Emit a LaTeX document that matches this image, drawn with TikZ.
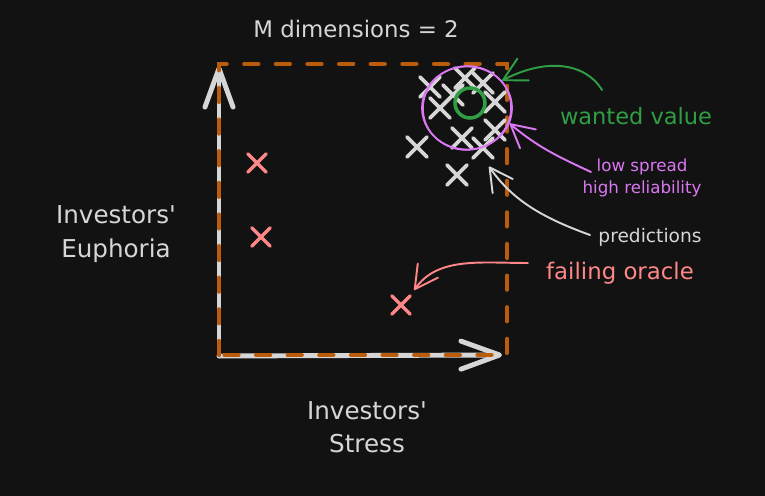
\documentclass[tikz,border=0pt]{standalone}
\usepackage{fontspec}
\setmainfont{DejaVu Sans}
\usetikzlibrary{positioning,arrows.meta,shapes.misc,shapes.geometric}
\pgfdeclarelayer{background layer}
\pgfsetlayers{background layer,main}
\definecolor{bgdark}{HTML}{121212}
\definecolor{chalk}{HTML}{D6D6D6}
\definecolor{dimorange}{HTML}{BA5C0C}
\definecolor{oraclered}{HTML}{FF8787}
\definecolor{wantgreen}{HTML}{2F9E44}
\definecolor{spreadpurple}{HTML}{DA77F2}
\tikzset{
	axis/.style={draw=chalk,line width=2.8pt,line cap=round,-{Straight Barb[length=22pt,width=16pt,round]}},
	dimbox/.style={draw=dimorange,line width=2.4pt,line cap=round,dash pattern=on 8pt off 10pt},
	predmark/.style={cross out,draw=chalk,line width=2.2pt,line cap=round,minimum size=0.32cm,inner sep=0pt},
	oraclemark/.style={predmark,draw=oraclered,line width=1.9pt,minimum size=0.3cm},
	handarrow/.style={line width=1.1pt,line cap=round,-{Straight Barb[length=13pt,width=14pt,round]}},
	chalktext/.style={text=chalk,font=\fontsize{13pt}{19pt}\selectfont,align=center,inner sep=0pt}
}
\newcommand{\prediction}[2]{
	\node [predmark] (#1) at (#2) {}
}
\newcommand{\oracle}[2]{
	\node [oraclemark] (#1) at (#2) {}
}

\begin{document}
\begin{tikzpicture}[x=0.02cm,y=-0.02cm]
	% On main layer
	\coordinate (origin) at (219,356);
	\coordinate (ytip) at (219,66);
	\coordinate (xtip) at (502,355);
	\draw [axis] (origin) -- (ytip);
	\draw [axis] (origin) -- (xtip);
	\draw [dimbox] (219,355) -- (219,64) -- (507,64) -- (507,355) -- cycle;

	\node [chalktext] (dims) at (356,29) {M dimensions = 2};
	\node [chalktext,font=\fontsize{14pt}{19pt}\selectfont] (euphoria) at (116,234) {Investors\textquotesingle\\Euphoria};
	\node [chalktext,font=\fontsize{14pt}{19pt}\selectfont] (stress) at (367,427) {Investors\textquotesingle\\Stress};

	\prediction {p1}{430,87};
	\prediction {p2}{465,78};
	\prediction {p3}{483,83};
	\prediction {p4}{453,95};
	\prediction {p5}{440,108};
	\prediction {p6}{495,102};
	\prediction {p7}{462,138};
	\prediction {p8}{495,130};
	\prediction {p9}{483,148};
	\prediction {p10}{417,147};
	\prediction {p11}{457,175};

	\oracle {o1}{257,163};
	\oracle {o2}{261,237};
	\oracle {o3}{401,305};

	\node [circle,draw=wantgreen,line width=2pt,minimum size=0.6cm] (wanted) at (470,103) {};
	\node [ellipse,draw=spreadpurple,line width=1pt,minimum width=1.8cm,minimum height=1.66cm] (spread) at (467,108) {};
	\draw [spreadpurple,line width=0.8pt,rotate around={8:(spread.center)}] (spread.center) ellipse [x radius=44,y radius=42];

	\node [chalktext,text=wantgreen,font=\fontsize{12.8pt}{16pt}\selectfont] (wantedlbl) at (636,116) {wanted value};
	\node [chalktext,text=spreadpurple,font=\fontsize{9.5pt}{12.5pt}\selectfont] (spreadlbl) at (642,178) {low spread\\high reliability};
	\node [chalktext,font=\fontsize{10.6pt}{13pt}\selectfont] (predlbl) at (650,237) {predictions};
	\node [chalktext,text=oraclered,font=\fontsize{13pt}{16pt}\selectfont] (oraclelbl) at (620,273) {failing oracle};

	\coordinate (wantstart) at (602,90);
	\coordinate (spreadstart) at (591,172);
	\coordinate (predstart) at (590,235);
	\coordinate (oraclestart) at (528,263);
	\draw [handarrow,wantgreen] (wantstart) .. controls (585,62) and (545,58) .. (spread.38);
	\draw [handarrow,spreadpurple] (spreadstart) to[out=155,in=-40] (spread.-20);
	\draw [handarrow,chalk,shorten >=6pt] (predstart) to[out=160,in=-55] (p9.south);
	\draw [handarrow,oraclered,shorten >=4pt] (oraclestart) to[out=180,in=55] (o3.north east);

	% On background layer
	\begin{pgfonlayer}{background layer}
	\fill [bgdark] (0,0) rectangle (765,496);
	\end{pgfonlayer}

\end{tikzpicture}
\end{document}
